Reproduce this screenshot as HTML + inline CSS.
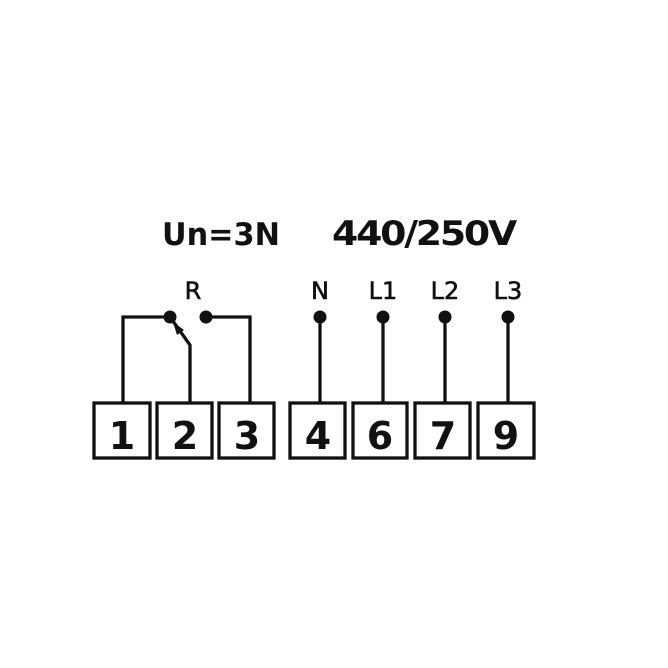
<!DOCTYPE html>
<html><head><meta charset="utf-8"><style>
html,body{margin:0;padding:0;background:#fff;}
svg{display:block;}
text{font-family:"DejaVu Sans","Liberation Sans",sans-serif;fill:#111;}
</style></head><body>
<svg width="668" height="668" viewBox="0 0 668 668" xmlns="http://www.w3.org/2000/svg">
<rect width="668" height="668" fill="#fff"/>
<text x="162" y="245" font-size="31" font-weight="bold" textLength="118" lengthAdjust="spacingAndGlyphs">Un=3N</text>
<text x="332" y="245" font-size="34" font-weight="bold" textLength="183" lengthAdjust="spacingAndGlyphs" letter-spacing="-2">440/250V</text>
<g font-size="24" text-anchor="middle" stroke="#111" stroke-width="0.6">
<text x="193" y="299">R</text>
<text x="320" y="299">N</text>
<text x="383" y="299">L1</text>
<text x="445" y="299">L2</text>
<text x="508" y="299">L3</text>
</g>
<g stroke="#111" stroke-width="3.3" fill="none">
<rect x="94" y="403" width="56" height="55"/>
<rect x="157" y="403" width="55" height="55"/>
<rect x="219" y="403" width="55" height="55"/>
<rect x="290" y="403" width="55" height="55"/>
<rect x="353" y="403" width="54" height="55"/>
<rect x="415" y="403" width="55" height="55"/>
<rect x="478" y="403" width="56" height="55"/>
<polyline points="123,403 123,317 170,317"/>
<polyline points="170,317 190,345 190,403"/>
<polyline points="206,317 250,317 250,403"/>
<line x1="320" y1="317" x2="320" y2="403"/>
<line x1="383" y1="317" x2="383" y2="403"/>
<line x1="445" y1="317" x2="445" y2="403"/>
<line x1="508" y1="317" x2="508" y2="403"/>
</g>
<g fill="#111">
<circle cx="170" cy="317" r="6.5"/>
<circle cx="206" cy="317" r="6.5"/>
<circle cx="320" cy="317" r="6.5"/>
<circle cx="383" cy="317" r="6.5"/>
<circle cx="445" cy="317" r="6.5"/>
<circle cx="508" cy="317" r="6.5"/>
<polygon points="173,322 184,330 177,335"/>
</g>
<g font-size="38" font-weight="bold" text-anchor="middle">
<text x="122" y="449">1</text>
<text x="185" y="449">2</text>
<text x="247" y="449">3</text>
<text x="318" y="449">4</text>
<text x="380" y="449">6</text>
<text x="443" y="449">7</text>
<text x="506" y="449">9</text>
</g>
</svg>
</body></html>
